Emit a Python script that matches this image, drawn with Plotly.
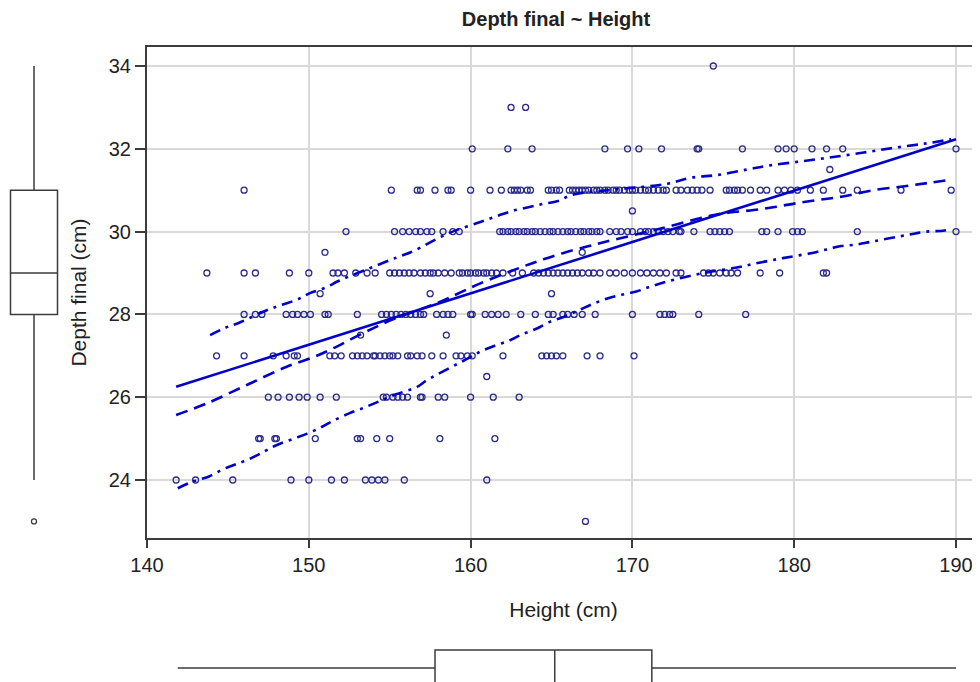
import plotly.graph_objects as go

# ---------------- data ----------------
# Heights (cm) observed at each depth value (cm)
h_d34 = [175.0]
h_d33 = [162.5, 163.4]
h_d32 = [160.1, 162.3, 163.8, 168.3, 169.7, 170.4, 171.8, 174.0, 174.1, 176.8,
         179.0, 179.5, 180.0, 181.1, 182.0, 183.0, 190.0]
h_d315 = [182.2]
h_d31 = [146.0, 155.1, 156.7, 156.9, 157.8, 158.6, 158.8, 160.0, 161.2, 161.9,
         162.5, 162.7, 162.9, 163.1, 163.5, 163.7, 164.8, 165.0, 165.3, 165.5,
         166.1, 166.3, 166.5, 166.7, 166.9, 167.1, 167.3, 167.6, 167.8, 168.0,
         168.3, 168.5, 168.8, 169.0, 169.2, 169.5, 169.8, 170.0, 170.2, 170.5,
         170.8, 171.0, 171.3, 171.6, 171.9, 172.1, 172.7, 173.0, 173.4, 173.7,
         174.0, 174.3, 174.8, 175.8, 176.0, 176.3, 176.5, 176.8, 177.3, 177.9,
         178.3, 179.0, 179.4, 179.8, 180.2, 181.0, 181.8, 183.0, 183.9, 186.6, 189.7]
h_d305 = [170.0]
h_d30 = [152.3, 155.3, 155.8, 156.2, 156.6, 156.9, 157.3, 157.6, 158.3, 158.9,
         159.3, 161.8, 162.0, 162.3, 162.5, 162.8, 163.0, 163.3, 163.5, 163.8,
         164.0, 164.3, 164.6, 164.9, 165.1, 165.4, 165.7, 166.0, 166.2, 166.5,
         166.8, 167.0, 167.3, 167.5, 167.8, 168.0, 168.6, 169.0, 169.3, 169.7,
         170.0, 170.5, 170.8, 171.0, 171.3, 171.6, 171.9, 172.2, 172.5, 172.9,
         173.0, 173.8, 174.8, 175.1, 175.4, 175.7, 176.0, 178.0, 178.3, 179.0,
         179.9, 180.2, 180.5, 183.9, 190.0]
h_d295 = [151.0, 166.9]
h_d29 = [143.7, 146.0, 146.7, 148.8, 150.0, 151.5, 151.8, 152.2, 152.9, 153.6,
         154.1, 155.0, 155.3, 155.6, 155.9, 156.2, 156.5, 156.9, 157.2, 157.5,
         157.7, 158.0, 158.4, 158.8, 159.3, 159.5, 159.8, 160.0, 160.3, 160.5,
         160.8, 161.0, 161.3, 161.6, 162.0, 162.6, 163.2, 163.9, 164.2, 164.5,
         164.8, 165.1, 165.4, 165.7, 166.0, 166.3, 166.6, 166.9, 167.3, 167.6,
         168.0, 168.6, 169.0, 169.5, 170.0, 170.5, 170.9, 171.3, 171.7, 172.1,
         172.7, 173.0, 174.4, 174.7, 175.0, 175.4, 175.8, 176.1, 176.5, 177.9,
         179.1, 181.8, 182.0]
h_d285 = [150.7, 157.5, 165.0]
h_d28 = [146.0, 146.7, 147.1, 148.6, 149.0, 149.3, 149.7, 150.1, 151.0, 151.2,
         153.0, 154.5, 154.8, 155.1, 155.4, 155.7, 156.0, 156.3, 156.6, 156.9,
         157.1, 157.9, 158.3, 158.6, 158.9, 160.0, 160.1, 160.9, 161.3, 161.7,
         162.2, 163.1, 164.0, 164.8, 165.1, 165.7, 166.0, 166.4, 166.9, 167.7,
         170.0, 171.7, 172.0, 172.3, 172.5, 174.1, 177.0]
h_d275 = [153.2, 158.5]
h_d27 = [144.3, 146.0, 147.8, 148.6, 149.1, 149.3, 151.3, 151.6, 152.0, 152.7,
         153.0, 153.3, 153.6, 154.0, 154.1, 154.4, 154.7, 155.0, 155.2, 155.5,
         156.1, 156.3, 156.7, 157.0, 157.6, 158.3, 159.1, 159.4, 159.8, 160.1,
         162.0, 164.4, 164.7, 165.0, 165.3, 165.7, 167.2, 168.0, 170.1]
h_d265 = [161.0]
h_d26 = [147.5, 148.1, 148.8, 149.4, 149.9, 150.7, 151.7, 154.6, 154.8, 155.2,
         155.5, 155.8, 156.1, 156.9, 157.0, 158.0, 158.4, 160.0, 161.4, 163.0]
h_d25 = [146.9, 147.0, 147.9, 148.0, 150.4, 153.0, 153.2, 154.2, 155.0, 158.1, 161.5]
h_d24 = [141.8, 143.0, 145.3, 148.9, 150.0, 151.4, 152.2, 153.5, 153.9, 154.3,
         154.7, 155.9, 161.0]
h_d23 = [167.1]

depth_levels = [34, 33, 32, 31.5, 31, 30.5, 30, 29.5, 29, 28.5, 28, 27.5, 27, 26.5, 26, 25, 24, 23]
height_groups = [h_d34, h_d33, h_d32, h_d315, h_d31, h_d305, h_d30, h_d295, h_d29,
                 h_d285, h_d28, h_d275, h_d27, h_d265, h_d26, h_d25, h_d24, h_d23]

# Linear fit
lin_x = [141.8, 190.0]
lin_y = [26.25, 32.23]

# Smooth (loess) fit
loess_x = [141.8, 143.7, 146.2, 148.6, 150.3, 151.5, 152.7, 154.0, 155.2, 158.1,
           159.2, 160.6, 163.2, 164.5, 165.7, 167.2, 168.4, 171.7, 174.8, 176.0,
           177.5, 178.9, 180.2, 181.6, 183.0, 184.9, 186.7, 188.2, 189.6]
loess_y = [25.57, 25.85, 26.30, 26.73, 26.97, 27.18, 27.42, 27.67, 27.88, 28.30,
           28.50, 28.75, 29.15, 29.33, 29.48, 29.64, 29.76, 30.07, 30.38, 30.46,
           30.52, 30.60, 30.69, 30.77, 30.85, 31.00, 31.09, 31.17, 31.25]

# Upper band
upper_x = [143.9, 144.8, 145.7, 147.4, 148.4, 149.3, 150.1, 151.0, 151.9, 153.8,
           155.4, 156.3, 158.7, 160.6, 161.8, 162.6, 163.7, 164.5, 165.4, 166.3,
           169.0, 172.1, 173.6, 175.3, 177.1, 178.5, 180.5, 182.4, 184.3, 186.1,
           188.0, 189.7]
upper_y = [27.50, 27.67, 27.80, 28.10, 28.24, 28.36, 28.52, 28.64, 28.82, 29.12,
           29.37, 29.50, 29.97, 30.23, 30.40, 30.50, 30.60, 30.67, 30.74, 30.89,
           31.02, 31.15, 31.30, 31.37, 31.50, 31.60, 31.70, 31.80, 31.91, 32.02,
           32.12, 32.23]

# Lower band
lower_x = [141.9, 142.8, 143.8, 144.7, 145.5, 146.4, 147.3, 148.0, 149.0, 149.9,
           150.8, 151.5, 152.5, 153.5, 154.4, 155.4, 156.7, 157.3, 159.8, 160.6,
           161.4, 162.4, 163.2, 164.1, 164.9, 165.9, 166.8, 167.6, 168.5, 169.3,
           170.3, 171.1, 172.1, 173.9, 175.0, 176.7, 177.5, 178.5, 179.3, 180.2,
           181.2, 182.0, 182.9, 183.9, 184.7, 185.5, 186.6, 187.4, 188.2, 189.2, 189.6]
lower_y = [23.80, 23.96, 24.08, 24.26, 24.38, 24.52, 24.70, 24.84, 24.99, 25.12,
           25.28, 25.43, 25.61, 25.76, 25.91, 26.07, 26.25, 26.41, 26.93, 27.10,
           27.23, 27.37, 27.52, 27.66, 27.82, 27.96, 28.12, 28.26, 28.39, 28.47,
           28.56, 28.67, 28.79, 28.96, 29.04, 29.15, 29.22, 29.30, 29.36, 29.42,
           29.49, 29.57, 29.65, 29.69, 29.75, 29.81, 29.89, 29.95, 30.00, 30.02, 30.05]

# Marginal box statistics
depth_box = dict(q1=28, median=29, q3=31, lowerfence=24, upperfence=34)
depth_outliers = [23]
height_box = dict(q1=157.8, median=165.2, q3=171.2, lowerfence=141.9, upperfence=190.0)

# ---------------- figure ----------------
heights = []
depths = []
for d, hs in zip(depth_levels, height_groups):
    heights.extend(hs)
    depths.extend([d] * len(hs))

OFF = 8  # page body margin
W, H = 980 - OFF, 682 - OFF
PL, PT, PB = 147 - OFF, 47 - OFF, 538 - OFF

LINE_BLUE = "#0000c8"
MARK = "#2a2a8c"
BOXC = "#3c3c3c"
FONT = "Arial, Liberation Sans, sans-serif"

fig = go.Figure()

fig.add_trace(go.Scatter(
    x=heights, y=depths, mode="markers",
    marker=dict(symbol="circle-open", size=6, color=MARK, line=dict(width=1.3, color=MARK)),
    showlegend=False, xaxis="x", yaxis="y"))

fig.add_trace(go.Scatter(x=lin_x, y=lin_y, mode="lines",
                         line=dict(color=LINE_BLUE, width=2.6), showlegend=False))
fig.add_trace(go.Scatter(x=loess_x, y=loess_y, mode="lines", line_shape="spline",
                         line=dict(color=LINE_BLUE, width=2.6, dash="12px,7px"), showlegend=False))
fig.add_trace(go.Scatter(x=upper_x, y=upper_y, mode="lines", line_shape="spline",
                         line=dict(color=LINE_BLUE, width=2.6, dash="11px,6px,3px,6px"), showlegend=False))
fig.add_trace(go.Scatter(x=lower_x, y=lower_y, mode="lines", line_shape="spline",
                         line=dict(color=LINE_BLUE, width=2.6, dash="11px,6px,3px,6px"), showlegend=False))

# left marginal box (depth)
fig.add_trace(go.Box(
    x=[0], q1=[depth_box["q1"]], median=[depth_box["median"]], q3=[depth_box["q3"]],
    lowerfence=[depth_box["lowerfence"]], upperfence=[depth_box["upperfence"]],
    width=1, orientation="v", fillcolor="white", line=dict(color=BOXC, width=1.5),
    whiskerwidth=0, boxpoints=False, showlegend=False, xaxis="x2", yaxis="y2"))
fig.add_trace(go.Scatter(
    x=[0] * len(depth_outliers), y=depth_outliers, mode="markers",
    marker=dict(symbol="circle-open", size=5, color=BOXC, line=dict(width=1.3, color=BOXC)),
    showlegend=False, xaxis="x2", yaxis="y2"))

# bottom marginal box (height)
fig.add_trace(go.Box(
    y=[0], q1=[height_box["q1"]], median=[height_box["median"]], q3=[height_box["q3"]],
    lowerfence=[height_box["lowerfence"]], upperfence=[height_box["upperfence"]],
    width=1, orientation="h", fillcolor="white", line=dict(color=BOXC, width=1.5),
    whiskerwidth=0, boxpoints=False, showlegend=False, xaxis="x3", yaxis="y3"))

ppx = (956 - 147) / 50.0
ppy = (480 - 66) / 10.0
x_lo = 140.0
x_hi = 140.0 + (W - PL) / ppx
y_lo = 24 - (538 - 480) / ppy
y_hi = 34 + (66 - 47) / ppy

x_dom = [PL / W, 1]
y_dom = [(H - PB) / H, (H - PT) / H]

box_cx = 34 - OFF  # left box centre (px)

fig.update_layout(
    width=W, height=H,
    margin=dict(l=0, r=0, t=0, b=0, autoexpand=False),
    paper_bgcolor="white", plot_bgcolor="white",
    font=dict(family=FONT, color="#222222", size=20),
    title=dict(text="<b>Depth final ~ Height</b>", x=(556 - OFF) / W, xanchor="center",
               y=1 - (19 - OFF) / H, yanchor="middle", yref="container",
               font=dict(family=FONT, size=20, color="#222222")),
    xaxis=dict(domain=x_dom, range=[x_lo, x_hi], anchor="y", automargin=False,
               tickvals=[140, 150, 160, 170, 180, 190],
               showgrid=True, gridcolor="#d9d9d9", gridwidth=1.5, zeroline=False,
               showline=True, linecolor="#3c3c3c", linewidth=2, mirror=True,
               ticks="outside", ticklen=8, tickcolor="#3c3c3c", tickwidth=1.5,
               tickfont=dict(size=20, color="#222222"),
               title=dict(text="Height (cm)", standoff=27, font=dict(size=21))),
    yaxis=dict(domain=y_dom, range=[y_lo, y_hi], anchor="x", automargin=False,
               tickvals=[24, 26, 28, 30, 32, 34],
               showgrid=True, gridcolor="#d9d9d9", gridwidth=1.5, zeroline=False,
               showline=True, linecolor="#3c3c3c", linewidth=2,
               ticks="outside", ticklen=10, tickcolor="#3c3c3c", tickwidth=1.5,
               tickfont=dict(size=20, color="#222222"),
               title=dict(text="Depth final (cm)", standoff=16, font=dict(size=21))),
    xaxis2=dict(domain=[0, 70 / W], range=[-box_cx / 47, (70 - box_cx) / 47], anchor="y2", visible=False),
    yaxis2=dict(domain=y_dom, range=[y_lo, y_hi], anchor="x2", visible=False),
    xaxis3=dict(domain=x_dom, range=[x_lo, x_hi], anchor="y3", visible=False),
    yaxis3=dict(domain=[0, 54.5 / H], range=[-14 / 36, 40.5 / 36], anchor="x3", visible=False),
)

fig.write_html("out.html")
